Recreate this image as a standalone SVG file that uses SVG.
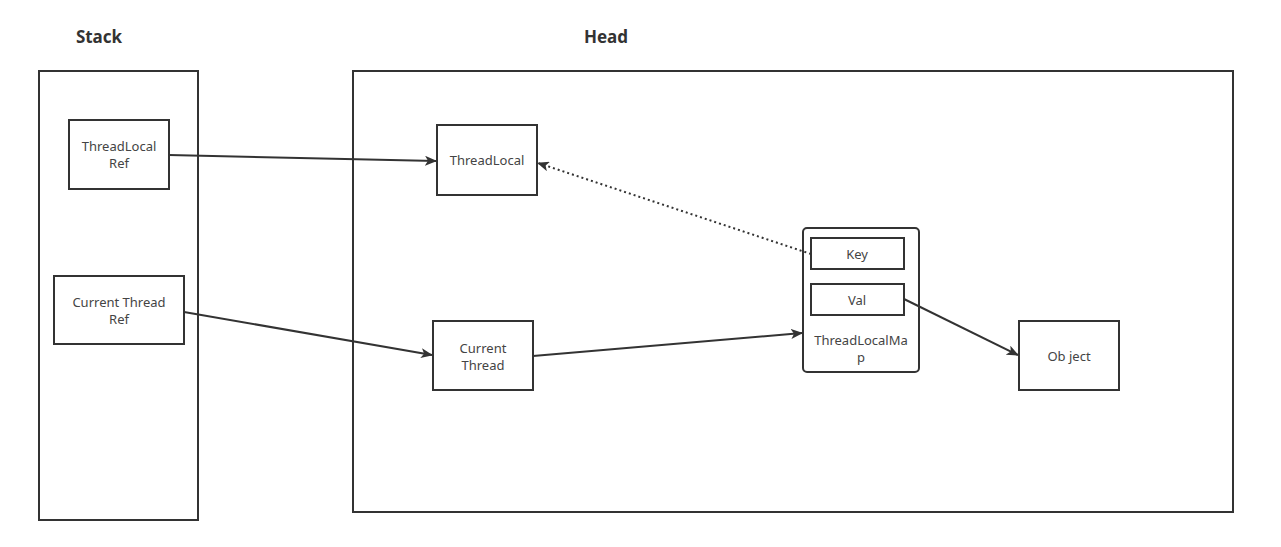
<svg xmlns="http://www.w3.org/2000/svg" width="1281" height="547" viewBox="0 0 1281 547">
<defs>
<style>
.box{fill:#fff;stroke:#333;stroke-width:2}
.t{font-family:"Noto Sans","Open Sans",sans-serif;font-size:13px;fill:#444;text-anchor:middle}
.h{font-family:"Noto Sans","Open Sans",sans-serif;font-size:17px;font-weight:bold;fill:#333;text-anchor:middle}
.c{fill:none;stroke:#333;stroke-width:2}
.d{fill:none;stroke:#333;stroke-width:2;stroke-dasharray:2 3}
</style>
<marker id="a" markerWidth="12" markerHeight="10" refX="11" refY="5" orient="auto" markerUnits="userSpaceOnUse">
<path d="M0,0 L12,5 L0,10 L3,5 Z" fill="#333"/>
</marker>
</defs>
<rect width="1281" height="547" fill="#fff"/>
<g id="stack">
<text class="h" x="99" y="43">Stack</text>
<rect class="box" x="39" y="71" width="159" height="449"/>
</g>
<g id="head">
<text class="h" x="606" y="43">Head</text>
<rect class="box" x="353" y="71" width="880" height="441"/>
</g>
<g id="threadlocalref">
<rect class="box" x="69" y="120" width="100" height="69"/>
<text class="t" x="119" y="151">ThreadLocal</text>
<text class="t" x="119" y="168">Ref</text>
</g>
<g id="currentthreadref">
<rect class="box" x="54" y="276" width="130" height="68"/>
<text class="t" x="119" y="307">Current Thread</text>
<text class="t" x="119" y="324">Ref</text>
</g>
<g id="threadlocal">
<rect class="box" x="437" y="125" width="100" height="70"/>
<text class="t" x="487" y="165">ThreadLocal</text>
</g>
<g id="currentthread">
<rect class="box" x="433" y="321" width="100" height="69"/>
<text class="t" x="483" y="353">Current</text>
<text class="t" x="483" y="370">Thread</text>
</g>
<g id="threadlocalmap">
<rect class="box" x="803" y="228" width="116" height="144" rx="4"/>
<text class="t" x="861" y="345">ThreadLocalMa</text>
<text class="t" x="861" y="362">p</text>
</g>
<g id="key">
<rect class="box" x="811" y="238" width="93" height="31"/>
<text class="t" x="857" y="259">Key</text>
</g>
<g id="val">
<rect class="box" x="811" y="284" width="93" height="31"/>
<text class="t" x="857" y="305">Val</text>
</g>
<g id="object">
<rect class="box" x="1019" y="321" width="100" height="69"/>
<text class="t" x="1069" y="361">Ob ject</text>
</g>
<g id="connectors">
<path class="c" d="M169,155 L436,161" marker-end="url(#a)"/>
<path class="c" d="M184,312 L432,355" marker-end="url(#a)"/>
<path class="c" d="M533,356 L802,333" marker-end="url(#a)"/>
<path class="c" d="M904,299 L1018,355" marker-end="url(#a)"/>
<path class="d" d="M811,254 L538,163" marker-end="url(#a)"/>
</g>
</svg>
